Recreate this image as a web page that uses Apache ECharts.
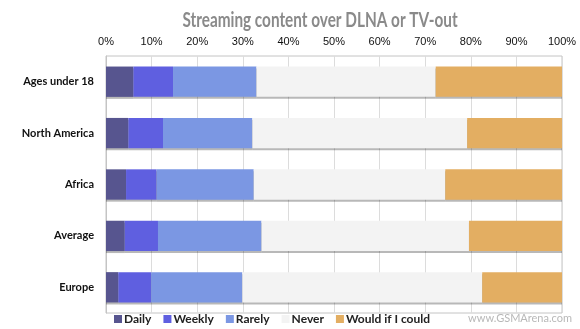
<!DOCTYPE html>
<html>
<head>
<meta charset="utf-8">
<style>
  html, body { margin: 0; padding: 0; background: #ffffff; }
  #chart { width: 580px; height: 329px; }
</style>
<script src="https://cdn.jsdelivr.net/npm/echarts@6/dist/echarts.min.js"></script>
</head>
<body>
<div id="chart"></div>
<script>
// Survey groups, top to bottom
const groups = ['Ages under 18', 'North America', 'Africa', 'Average', 'Europe'];

// Share of answers per group (percent)
const daily   = [6.0, 4.9, 4.4, 4.1, 2.7];
const weekly  = [8.7, 7.6, 6.7, 7.3, 7.2];
const rarely  = [18.3, 19.6, 21.3, 22.7, 20.0];
const never   = [39.3, 47.1, 42.0, 45.5, 52.6];
const wouldIf = [27.7, 20.8, 25.6, 20.4, 17.5];

const seriesNames = ['Daily', 'Weekly', 'Rarely', 'Never', 'Would if I could'];
const seriesData = [daily, weekly, rarely, never, wouldIf];
const seriesColors = ['#57558f', '#5f5fe0', '#7b97e3', '#f3f3f3', '#e3ae62'];

const FONT = 'Lato, "Liberation Sans", sans-serif';

const chart = echarts.init(document.getElementById('chart'), null, { renderer: 'canvas' });

chart.setOption({
  animation: false,
  backgroundColor: '#ffffff',
  legend: {
    bottom: -1,
    left: 109,
    icon: 'rect',
    itemWidth: 8,
    itemHeight: 8,
    itemGap: 12,
    textStyle: { fontFamily: FONT, fontWeight: 'bold', fontSize: 12, color: '#222', padding: [0, 0, 0, -3] },
    data: seriesNames
  },
  graphic: [
    {
      // condensed, heavy chart heading
      type: 'text',
      x: 320,
      y: 20,
      scaleX: 0.73,
      style: {
        text: 'Streaming content over DLNA or TV-out',
        fontFamily: FONT,
        fontWeight: 'bold',
        fontSize: 21,
        fill: '#8a8a8a',
        textAlign: 'center',
        textVerticalAlign: 'middle'
      }
    },
    {
      type: 'text',
      right: 8,
      bottom: 5,
      style: { text: 'www.GSMArena.com', fontFamily: FONT, fontSize: 11, fill: '#b8b8b8' }
    }
  ],
  grid: {
    left: 106,
    right: 18,
    top: 56,
    bottom: 16,
    show: true,
    borderColor: '#c4c4c4',
    borderWidth: 1
  },
  xAxis: {
    type: 'value',
    position: 'top',
    min: 0,
    max: 100,
    interval: 10,
    axisLine: { show: false },
    axisTick: { show: false },
    axisLabel: {
      formatter: '{value}%',
      margin: 9,
      fontFamily: '"Liberation Sans", Arial, sans-serif',
      fontSize: 11,
      color: '#111'
    },
    splitLine: { lineStyle: { color: '#dcdcdc', width: 1 } }
  },
  yAxis: {
    type: 'category',
    inverse: true,
    data: groups,
    axisLine: { show: true, lineStyle: { color: '#c4c4c4' } },
    axisTick: { show: false },
    axisLabel: {
      margin: 12,
      fontFamily: FONT,
      fontWeight: 'bold',
      fontSize: 11,
      color: '#111'
    },
    splitLine: { show: false }
  },
  series: seriesNames.map((name, i) => ({
    name: name,
    type: 'bar',
    stack: 'total',
    data: seriesData[i],
    barCategoryGap: '41%',
    itemStyle: {
      color: seriesColors[i],
      shadowColor: 'rgba(0,0,0,0.28)',
      shadowOffsetY: 2,
      shadowBlur: 0
    }
  }))
});
</script>
</body>
</html>
